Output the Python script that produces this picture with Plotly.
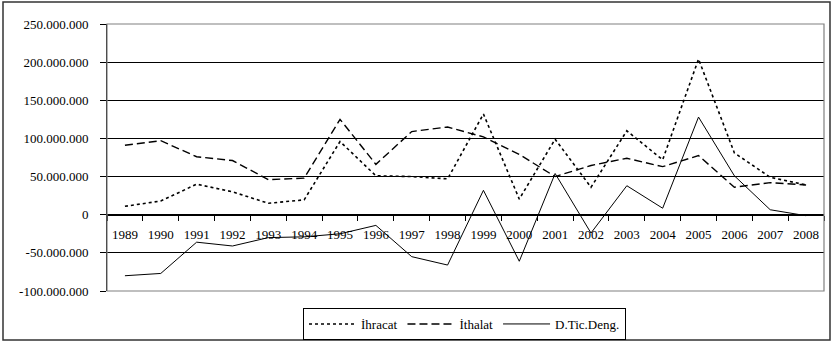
import plotly.graph_objects as go

years = [str(y) for y in range(1989, 2009)]
ihracat = [11e6, 18e6, 40e6, 30e6, 15e6, 19.5e6, 96e6, 51e6, 50e6, 47e6,
           132e6, 20.5e6, 99e6, 36e6, 110e6, 72e6, 204e6, 81e6, 49e6, 39e6]
ithalat = [91e6, 97e6, 76e6, 71e6, 46e6, 48e6, 125e6, 66e6, 109e6, 115e6,
           102e6, 79e6, 50e6, 64.5e6, 74e6, 63e6, 77.5e6, 36e6, 42e6, 39e6]
denge = [-80e6, -77e6, -36e6, -41e6, -30e6, -29e6, -25e6, -14e6, -55e6, -66e6,
         32e6, -61e6, 54e6, -24e6, 38e6, 8.5e6, 128e6, 51e6, 6.5e6, -1.3e6]
y_tick_vals = [-100e6, -50e6, 0, 50e6, 100e6, 150e6, 200e6, 250e6]
y_tick_text = ["-100.000.000", "-50.000.000", "0", "50.000.000", "100.000.000",
               "150.000.000", "200.000.000", "250.000.000"]
series_names = ["İhracat", "İthalat", "D.Tic.Deng."]

FONT = "Liberation Serif, Times New Roman, DejaVu Serif, serif"

fig = go.Figure()
fig.add_trace(go.Scatter(x=years, y=ihracat, name=series_names[0], mode="lines",
                         line=dict(color="black", width=1.6, dash="dot")))
fig.add_trace(go.Scatter(x=years, y=ithalat, name=series_names[1], mode="lines",
                         line=dict(color="black", width=1.4, dash="8px,4px")))
fig.add_trace(go.Scatter(x=years, y=denge, name=series_names[2], mode="lines",
                         line=dict(color="black", width=1)))

W, H = 833, 343
L, R, T, B = 107, 824, 24, 291
ymin, ymax = -100e6, 250e6
fig.update_layout(
    width=W, height=H,
    margin=dict(l=L, r=W - R, t=T, b=H - B, autoexpand=False),
    paper_bgcolor="white", plot_bgcolor="white",
    font=dict(family=FONT, size=13, color="black"),
    showlegend=True,
    legend=dict(orientation="h", xref="container", yref="container",
                x=464.5 / W, y=1 - 324 / H, xanchor="center", yanchor="middle",
                bordercolor="black", borderwidth=1, bgcolor="white",
                font=dict(family=FONT, size=13, color="black"),
                itemwidth=47, tracegroupgap=0),
    xaxis=dict(type="category", anchor="free", position=(0 - ymin) / (ymax - ymin),
               range=[-0.5, len(years) - 0.5], automargin=False,
               showline=True, linecolor="black", linewidth=1,
               ticks="outside", ticklen=5, tickcolor="black", tickson="boundaries",
               showgrid=False, ticklabelstandoff=8,
               tickfont=dict(family=FONT, size=13, color="black")),
    yaxis=dict(range=[ymin, ymax], tickvals=y_tick_vals, ticktext=y_tick_text,
               automargin=False,
               showgrid=True, gridcolor="black", gridwidth=1, zeroline=False,
               showline=True, linecolor="black", linewidth=1,
               ticks="outside", ticklen=6, tickcolor="black", ticklabelstandoff=9,
               tickfont=dict(family=FONT, size=13, color="black")),
    shapes=[
        dict(type="rect", xref="paper", yref="paper", x0=0, x1=1, y0=0, y1=1,
             line=dict(color="#808080", width=1.2), layer="above"),
        dict(type="rect", xref="paper", yref="paper",
             x0=(3 - L) / (R - L), x1=(830 - L) / (R - L),
             y0=(B - 340) / (B - T), y1=(B - 2) / (B - T),
             line=dict(color="#333333", width=1.5), layer="above"),
    ],
)

fig.write_html("out.html", config={"displayModeBar": False},
               post_script="document.body.style.margin='0';")
